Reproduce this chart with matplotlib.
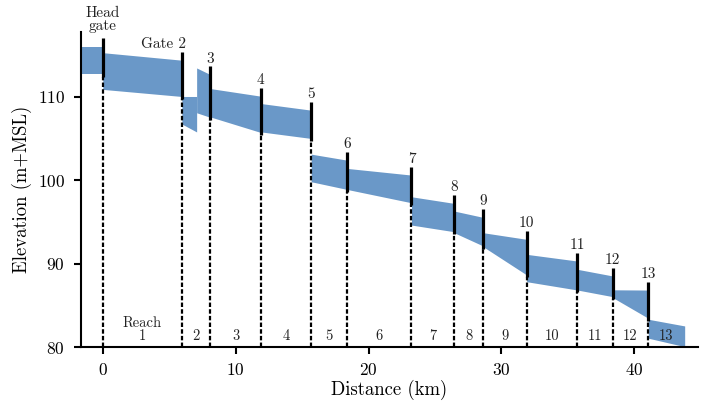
import matplotlib
matplotlib.use('Agg')
import matplotlib.pyplot as plt

plt.rcParams['font.family'] = 'cmr10'
plt.rcParams['mathtext.fontset'] = 'cm'
plt.rcParams['axes.formatter.use_mathtext'] = True

# gate positions (km) along the canal
gate_x = [0.0, 5.95, 8.09, 11.88, 15.68, 18.38, 23.23, 26.44, 28.63,
          31.9, 35.7, 38.37, 41.05]
gate_names = ['Head\ngate', 'Gate 2', '3', '4', '5', '6', '7', '8', '9',
              '10', '11', '12', '13']

# canal band pieces: start/end distance, top and bottom elevation (m+MSL)
seg_x0 = [-1.65, 0.0, 5.95, 7.06, 8.09, 11.88, 15.68, 18.38, 23.23, 26.44,
          28.63, 31.9, 35.7, 38.37, 41.05]
seg_x1 = [0.0, 5.95, 7.06, 8.09, 11.88, 15.68, 18.38, 23.23, 26.44, 28.63,
          31.9, 35.7, 38.37, 41.05, 43.79]
seg_top0 = [116.0, 115.3, 110.05, 113.47, 111.0, 109.21, 103.14, 101.43,
            98.03, 96.32, 93.72, 91.13, 89.34, 86.88, 83.35]
seg_top1 = [116.0, 114.4, 110.05, 112.68, 110.09, 108.41, 102.42, 100.63,
            97.24, 95.56, 92.93, 90.33, 88.54, 86.85, 82.55]
seg_bot0 = [112.7, 110.9, 106.75, 108.1, 107.6, 105.81, 99.83, 98.91,
            94.64, 93.72, 92.04, 87.85, 86.86, 85.95, 81.08]
seg_bot1 = [112.7, 110.05, 105.8, 107.55, 105.74, 105.02, 98.91, 97.31,
            93.84, 92.13, 88.66, 86.86, 86.06, 83.47, 80.07]

# channel top / bottom just upstream of each gate
up_top = [116.0, 114.4, 112.68, 110.09, 108.41, 102.42, 100.63, 97.24,
          95.56, 92.93, 90.33, 88.54, 86.85]
up_bot = [112.7, 110.05, 107.55, 105.74, 105.02, 98.91, 97.31, 93.84,
          92.13, 88.66, 86.86, 86.06, 83.47]

reach_labels = ['Reach\n1', '2', '3', '4', '5', '6', '7', '8', '9', '10',
                '11', '12', '13']
reach_end = 43.79

band_color = '#6a98c8'
txt_color = '#222222'

fig = plt.figure(figsize=(7.16, 4.08), dpi=100)
ax = fig.add_axes([0.113, 0.149, 0.862, 0.773])

for x0, x1, t0, t1, b0, b1 in zip(seg_x0, seg_x1, seg_top0, seg_top1,
                                  seg_bot0, seg_bot1):
    ax.fill_between([x0, x1], [b0, b1], [t0, t1], color=band_color,
                    linewidth=0)

# gates: solid over the channel, dashed down to the axis
for gx, name, t, b in zip(gate_x, gate_names, up_top, up_bot):
    ax.plot([gx, gx], [b - 0.3, t + 1.0], color='black', lw=2.3,
            solid_capstyle='butt', zorder=3)
    ax.plot([gx, gx], [80, b - 0.3], color='black', lw=1.6,
            linestyle=(0, (2, 1)), zorder=3)
    if name == 'Head\ngate':
        ax.annotate(name, xy=(gx, t + 1.0), xytext=(0, 4),
                    textcoords='offset points', ha='center', va='bottom',
                    fontsize=11, linespacing=0.95, color=txt_color)
    elif name == 'Gate 2':
        ax.annotate(name, xy=(gx, t + 1.0), xytext=(3, 0.5),
                    textcoords='offset points', ha='right', va='bottom',
                    fontsize=11, color=txt_color)
    else:
        ax.annotate(name, xy=(gx, t + 1.0), xytext=(0, 0.5),
                    textcoords='offset points', ha='center', va='bottom',
                    fontsize=11, color=txt_color)

# reach labels
ends = gate_x[1:] + [reach_end]
for x0, x1, lab in zip(gate_x, ends, reach_labels):
    ax.text((x0 + x1) / 2, 80.45, lab, ha='center', va='bottom',
            fontsize=10.5, linespacing=0.95, color=txt_color)

ax.set_xlim(-1.65, 44.8)
ax.set_ylim(80, 117.8)
ax.set_xticks([0, 10, 20, 30, 40])
ax.set_yticks([80, 90, 100, 110])
ax.spines['top'].set_visible(False)
ax.spines['right'].set_visible(False)
for s in ['left', 'bottom']:
    ax.spines[s].set_linewidth(1.5)
ax.tick_params(width=1.5, length=5, labelsize=12.5)
ax.tick_params(axis='y', pad=6.5)
ax.tick_params(axis='x', pad=6)
ax.set_xlabel('Distance (km)', fontsize=13.5, labelpad=1)
ax.set_ylabel('Elevation (m+MSL)', fontsize=13.5, labelpad=4)

fig.savefig('out.png', dpi=100)
